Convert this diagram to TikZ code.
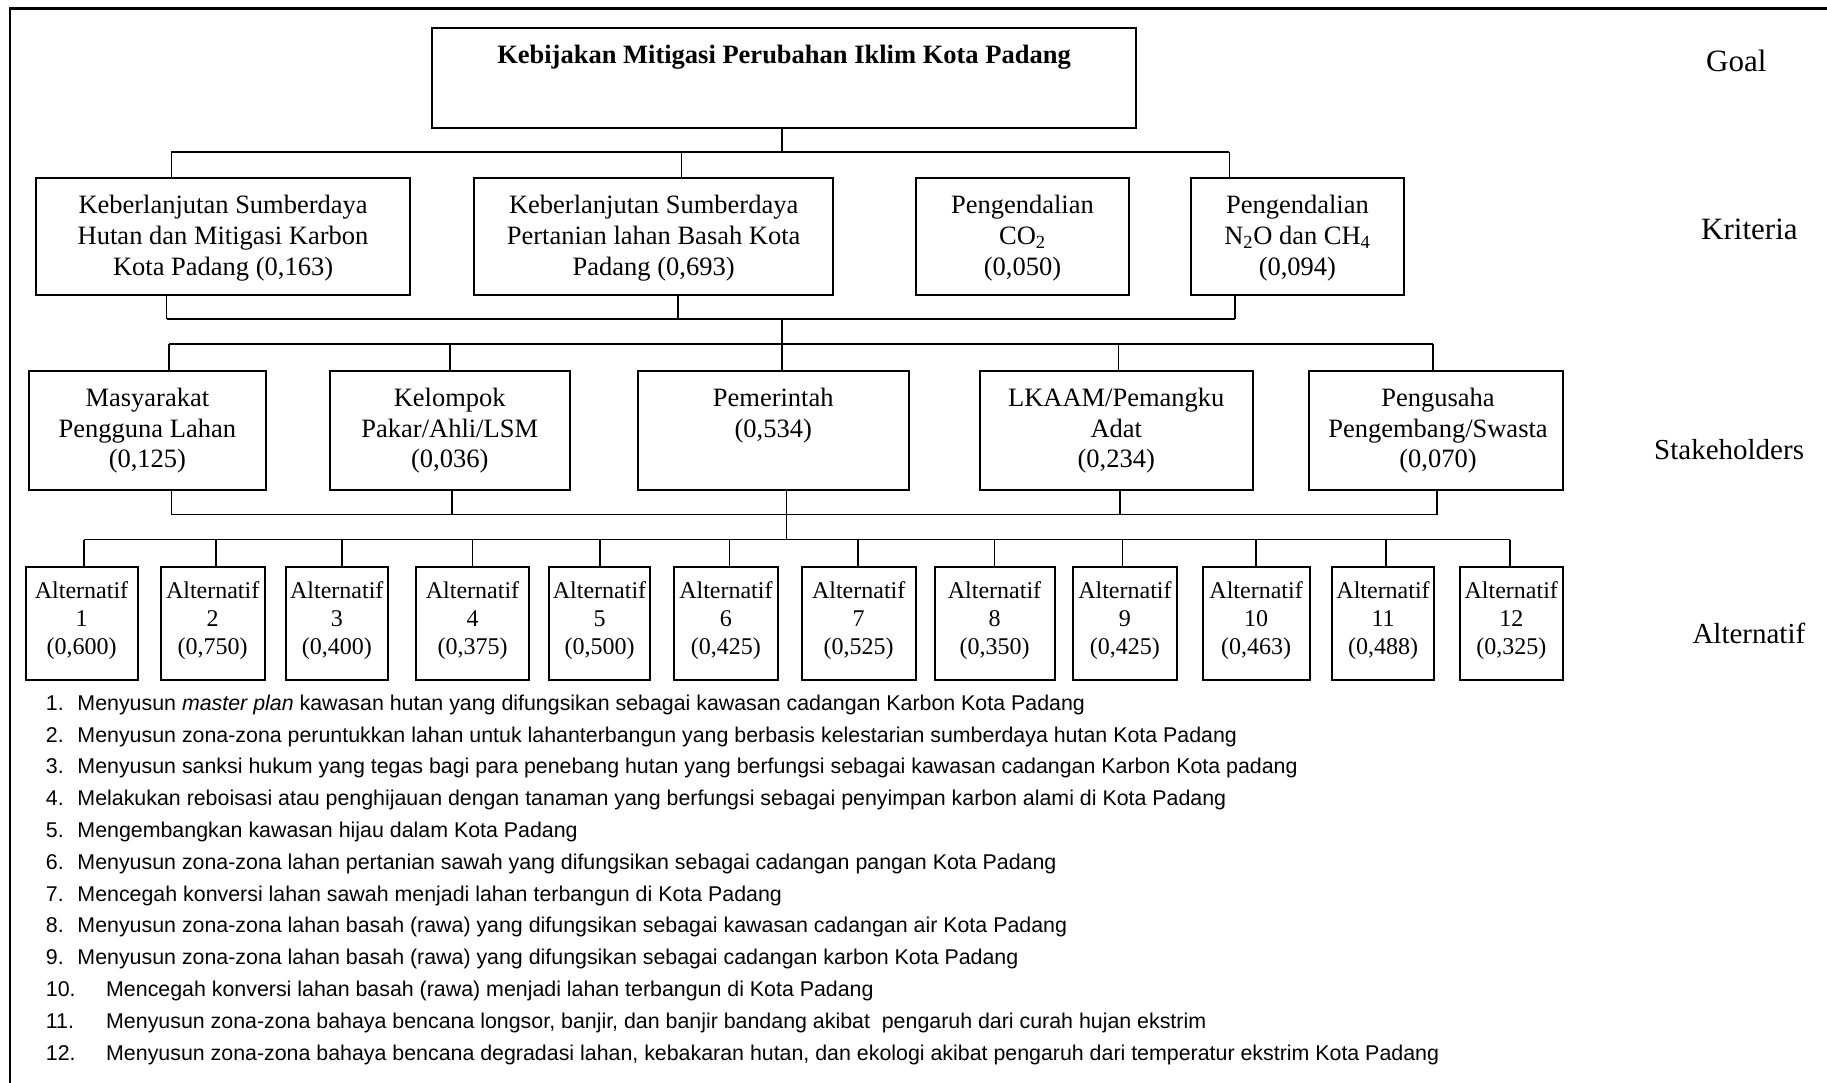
\documentclass[tikz,border=0pt]{standalone}
\usepackage{fontspec}
\setmainfont{Liberation Serif}
\newfontfamily\listfont{Liberation Sans}
\newcommand\crfont{\fontsize{26.5}{30.6}\selectfont}
\newcommand\altfnt{\fontsize{24}{28}\selectfont}
\begin{document}
\begin{tikzpicture}[x=1pt,y=-1pt,
  box/.style={draw, line width=2pt, inner sep=0pt, outer sep=0pt},
  conn/.style={line width=1.6pt},
  txt/.style={inner sep=0pt, anchor=base},
  lbl/.style={inner sep=0pt, anchor=base west},
  lst/.style={inner sep=0pt, anchor=base west, font=\listfont\fontsize{21.37}{25}\selectfont}]
\useasboundingbox (0,0) rectangle (1827,1083);
% frame
\draw[line width=2.5pt] (10,1083) -- (10,8.3) -- (1827,8.3);

% goal
\node[box, anchor=north west, minimum width=704.3pt, minimum height=99.4pt] (goal) at (431.7,28.3) {};
\node[txt] (goalt) at (784,64) {\crfont\bfseries Kebijakan Mitigasi Perubahan Iklim Kota Padang};

% criteria boxes
\node[box, anchor=north west, minimum width=374pt, minimum height=116.5pt] (k1) at (36.1,178.5) {};
\node[box, anchor=north west, minimum width=358.9pt, minimum height=116.5pt] (k2) at (474.2,178.5) {};
\node[box, anchor=north west, minimum width=213.3pt, minimum height=116.5pt] (k3) at (915.8,178.5) {};
\node[box, anchor=north west, minimum width=213.2pt, minimum height=116.5pt] (k4) at (1190.8,178.5) {};
\node[txt] (k1t) at (223.1,214) {\parbox[t]{400pt}{\centering\crfont Keberlanjutan Sumberdaya\\Hutan dan Mitigasi Karbon\\Kota Padang (0,163)}};
\node[txt] (k2t) at (653.65,214) {\parbox[t]{400pt}{\centering\crfont Keberlanjutan Sumberdaya\\Pertanian lahan Basah Kota\\Padang (0,693)}};
\node[txt] (k3t) at (1022.45,214) {\parbox[t]{300pt}{\centering\crfont Pengendalian\\CO\textsubscript{2}\\(0,050)}};
\node[txt] (k4t) at (1297.4,214) {\parbox[t]{300pt}{\centering\crfont Pengendalian\\N\textsubscript{2}O dan CH\textsubscript{4}\\(0,094)}};

% goal -> criteria
\coordinate (j0) at (782,152);
\coordinate (c1) at (171.3,152);
\coordinate (c2) at (681.6,152);
\coordinate (c4) at (1229.3,152);
\draw[conn] (j0 |- goal.south) -- (j0);
\draw[conn] (c1) -- (c4);
\draw[conn] (c1) -- (c1 |- k1.north);
\draw[conn] (c2) -- (c2 |- k2.north);
\draw[conn] (c4) -- (c4 |- k4.north);

% criteria -> stakeholders
\coordinate (e1) at (166.6,319);
\coordinate (e2) at (678.1,319);
\coordinate (e4) at (1235.1,319);
\coordinate (j1) at (781.8,319);
\draw[conn] (e1 |- k1.south) -- (e1);
\draw[conn] (e2 |- k2.south) -- (e2);
\draw[conn] (e4 |- k4.south) -- (e4);
\draw[conn] (e1) -- (e4);
\coordinate (f1) at (169,344);
\coordinate (f2) at (449.8,344);
\coordinate (f3) at (781.8,344);
\coordinate (f4) at (1118.6,344);
\coordinate (f5) at (1433.2,344);
\draw[conn] (j1) -- (f3);
\draw[conn] (f1) -- (f5);

% stakeholder boxes
\node[box, anchor=north west, minimum width=236.6pt, minimum height=119.3pt] (s1) at (29.1,370.7) {};
\node[box, anchor=north west, minimum width=240.1pt, minimum height=119.3pt] (s2) at (329.7,370.7) {};
\node[box, anchor=north west, minimum width=271.5pt, minimum height=119.3pt] (s3) at (637.5,370.7) {};
\node[box, anchor=north west, minimum width=272.7pt, minimum height=119.3pt] (s4) at (979.9,370.7) {};
\node[box, anchor=north west, minimum width=254pt, minimum height=119.3pt] (s5) at (1308.5,370.7) {};
\node[txt] (s1t) at (147.4,406.7) {\parbox[t]{300pt}{\centering\crfont Masyarakat\\Pengguna Lahan\\(0,125)}};
\node[txt] (s2t) at (449.75,406.7) {\parbox[t]{300pt}{\centering\crfont Kelompok\\Pakar/Ahli/LSM\\(0,036)}};
\node[txt] (s3t) at (773.25,406.7) {\parbox[t]{300pt}{\centering\crfont Pemerintah\\(0,534)}};
\node[txt] (s4t) at (1116.25,406.7) {\parbox[t]{300pt}{\centering\crfont LKAAM/Pemangku\\Adat\\(0,234)}};
\node[txt] (s5t) at (1438,406.7) {\parbox[t]{300pt}{\centering\crfont Pengusaha\\Pengembang/Swasta\\(0,070)}};
\draw[conn] (f1) -- (f1 |- s1.north);
\draw[conn] (f2) -- (f2 |- s2.north);
\draw[conn] (f3) -- (f3 |- s3.north);
\draw[conn] (f4) -- (f4 |- s4.north);
\draw[conn] (f5) -- (f5 |- s5.north);

% stakeholders -> alternatives
\coordinate (g1) at (171.3,514.5);
\coordinate (g2) at (452.1,514.5);
\coordinate (g4) at (1119.7,514.5);
\coordinate (g5) at (1436.7,514.5);
\coordinate (h3) at (786.5,539.5);
\draw[conn] (g1 |- s1.south) -- (g1);
\draw[conn] (g2 |- s2.south) -- (g2);
\draw[conn] (g4 |- s4.south) -- (g4);
\draw[conn] (g5 |- s5.south) -- (g5);
\draw[conn] (g1) -- (g5);
\draw[conn] (h3 |- s3.south) -- (h3);

% alternatives
\foreach \idx/\cx/\w/\dx/\val in {
  1/81.55/111.9/83.9/{(0,600)},
  2/212.65/103.7/215.9/{(0,750)},
  3/336.75/102.5/342.1/{(0,400)},
  4/472.5/113/472.3/{(0,375)},
  5/599.5/101.4/599.7/{(0,500)},
  6/725.9/104.8/729.3/{(0,425)},
  7/858.7/114.2/857.8/{(0,525)},
  8/994.5/120/994.6/{(0,350)},
  9/1124.95/103.7/1122.3/{(0,425)},
  10/1256.1/107.2/1255.9/{(0,463)},
  11/1383.05/102.5/1386/{(0,488)},
  12/1511.25/102.5/1510.1/{(0,325)}}{
  \node[box, anchor=north, minimum width=\w pt, minimum height=113pt] (a\idx) at (\cx,567) {};
  \node[txt] (at\idx) at (\cx,598.7) {\parbox[t]{150pt}{\centering\altfnt Alternatif\\\idx\\\val}};
  \coordinate (p\idx) at (\dx,539.5);
  \draw[conn] (p\idx) -- (p\idx |- a\idx.north);
}
\draw[conn] (p1) -- (p12);

% level labels
\node[lbl] (lg) at (1706,71.7) {\fontsize{31}{36}\selectfont Goal};
\node[lbl] (lk) at (1701,240) {\fontsize{31}{36}\selectfont Kriteria};
\node[lbl] (ls) at (1654,459.3) {\fontsize{29}{34}\selectfont Stakeholders};
\node[lbl] (la) at (1692.3,643) {\fontsize{29}{34}\selectfont Alternatif};

% list
\node[lst] (l1) at (45.7,710.3) {\makebox[31.6pt][l]{1.}Menyusun \textit{master plan} kawasan hutan yang difungsikan sebagai kawasan cadangan Karbon Kota Padang};
\node[lst] (l2) at (45.7,742.1) {\makebox[31.6pt][l]{2.}Menyusun zona-zona peruntukkan lahan untuk lahanterbangun yang berbasis kelestarian sumberdaya hutan Kota Padang};
\node[lst] (l3) at (45.7,773.9) {\makebox[31.6pt][l]{3.}Menyusun sanksi hukum yang tegas bagi para penebang hutan yang berfungsi sebagai kawasan cadangan Karbon Kota padang};
\node[lst] (l4) at (45.7,805.7) {\makebox[31.6pt][l]{4.}Melakukan reboisasi atau penghijauan dengan tanaman yang berfungsi sebagai penyimpan karbon alami di Kota Padang};
\node[lst] (l5) at (45.7,837.5) {\makebox[31.6pt][l]{5.}Mengembangkan kawasan hijau dalam Kota Padang};
\node[lst] (l6) at (45.7,869.3) {\makebox[31.6pt][l]{6.}Menyusun zona-zona lahan pertanian sawah yang difungsikan sebagai cadangan pangan Kota Padang};
\node[lst] (l7) at (45.7,901.1) {\makebox[31.6pt][l]{7.}Mencegah konversi lahan sawah menjadi lahan terbangun di Kota Padang};
\node[lst] (l8) at (45.7,932.9) {\makebox[31.6pt][l]{8.}Menyusun zona-zona lahan basah (rawa) yang difungsikan sebagai kawasan cadangan air Kota Padang};
\node[lst] (l9) at (45.7,964.7) {\makebox[31.6pt][l]{9.}Menyusun zona-zona lahan basah (rawa) yang difungsikan sebagai cadangan karbon Kota Padang};
\node[lst] (l10) at (45.7,996.5) {\makebox[60.3pt][l]{10.}Mencegah konversi lahan basah (rawa) menjadi lahan terbangun di Kota Padang};
\node[lst] (l11) at (45.7,1028.3) {\makebox[60.3pt][l]{11.}Menyusun zona-zona bahaya bencana longsor, banjir, dan banjir bandang akibat\ \ pengaruh dari curah hujan ekstrim};
\node[lst] (l12) at (45.7,1060.1) {\makebox[60.3pt][l]{12.}Menyusun zona-zona bahaya bencana degradasi lahan, kebakaran hutan, dan ekologi akibat pengaruh dari temperatur ekstrim Kota Padang};
\end{tikzpicture}
\end{document}
